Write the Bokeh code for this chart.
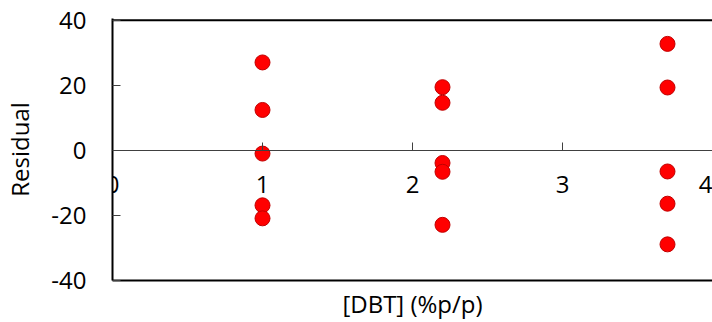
from bokeh.plotting import figure
from bokeh.models import LinearAxis, FixedTicker, ColumnDataSource, Span, Label
from bokeh.embed import file_html
from bokeh.resources import INLINE

# Data
dbt = [1.0, 1.0, 1.0, 1.0, 1.0,
       2.2, 2.2, 2.2, 2.2, 2.2,
       3.7, 3.7, 3.7, 3.7, 3.7]
residual = [27.0, 12.4, -1.0, -16.9, -20.9,
            19.4, 14.6, -3.9, -6.6, -22.9,
            32.7, 19.3, -6.5, -16.4, -28.9]
x_ticks = [0, 1, 2, 3, 4]
y_ticks = [-40, -20, 0, 20, 40]
x_title = "[DBT] (%p/p)"
y_title = "Residual"

FONT = "Open Sans"
FS = "24px"

# y range slightly above 40 so the top border line sits inside the frame
p = figure(width=712, height=322, x_range=(0, 4), y_range=(-40, 40.5),
           x_axis_type=None, y_axis_type=None,
           output_backend="svg", toolbar_location=None,
           min_border_left=112, min_border_right=0,
           min_border_top=18, min_border_bottom=42)
p.outline_line_color = None
p.xgrid.visible = False
p.ygrid.visible = False

# top border
p.add_layout(Span(location=y_ticks[-1], dimension="width", line_color="black",
                  line_width=2, level="underlay"))

# "0" tick label at the origin
p.add_layout(Label(x=x_ticks[0], y=0, text=str(x_ticks[0]), x_units="data", y_units="data",
                   text_align="center", text_baseline="top", y_offset=-26,
                   text_font=FONT, text_font_size=FS, text_color="black", level="underlay"))

# left axis
ya = LinearAxis(ticker=FixedTicker(ticks=y_ticks), axis_label=y_title)
ya.major_label_overrides = {t: str(t) for t in y_ticks}
ya.major_tick_in = 8
ya.major_tick_out = 0
ya.minor_tick_in = 0
ya.minor_tick_out = 0
ya.axis_line_width = 2
ya.axis_line_color = "black"
ya.major_tick_line_color = "#404040"
ya.major_label_standoff = 26
ya.major_label_text_font = FONT
ya.major_label_text_font_size = FS
ya.major_label_text_color = "black"
ya.axis_label_text_font = FONT
ya.axis_label_text_font_size = FS
ya.axis_label_text_font_style = "normal"
ya.axis_label_text_color = "black"
ya.axis_label_standoff = 12
p.add_layout(ya, "left")

# bottom border with title
xb = LinearAxis(ticker=FixedTicker(ticks=[]), axis_label=x_title)
xb.major_tick_in = 0
xb.major_tick_out = 0
xb.minor_tick_in = 0
xb.minor_tick_out = 0
xb.axis_line_width = 2
xb.axis_line_color = "black"
xb.axis_label_text_font = FONT
xb.axis_label_text_font_size = FS
xb.axis_label_text_font_style = "normal"
xb.axis_label_text_color = "black"
xb.axis_label_standoff = 6
p.add_layout(xb, "below")

# x axis crossing at y = 0
x0 = LinearAxis(ticker=FixedTicker(ticks=x_ticks), fixed_location=0)
x0.major_label_overrides = {0: ""}
x0.major_tick_in = 8
x0.major_tick_out = 0
x0.minor_tick_in = 0
x0.minor_tick_out = 0
x0.axis_line_width = 1
x0.axis_line_color = "#404040"
x0.major_tick_line_color = "#404040"
x0.major_label_standoff = 26
x0.major_label_text_font = FONT
x0.major_label_text_font_size = FS
x0.major_label_text_color = "black"
p.add_layout(x0, "below")

src = ColumnDataSource(dict(x=dbt, y=residual))
p.scatter("x", "y", source=src, size=15, marker="circle",
          fill_color="#FF0000", line_color="#C00000", line_width=1)

open("out.html", "w").write(file_html(p, INLINE))
